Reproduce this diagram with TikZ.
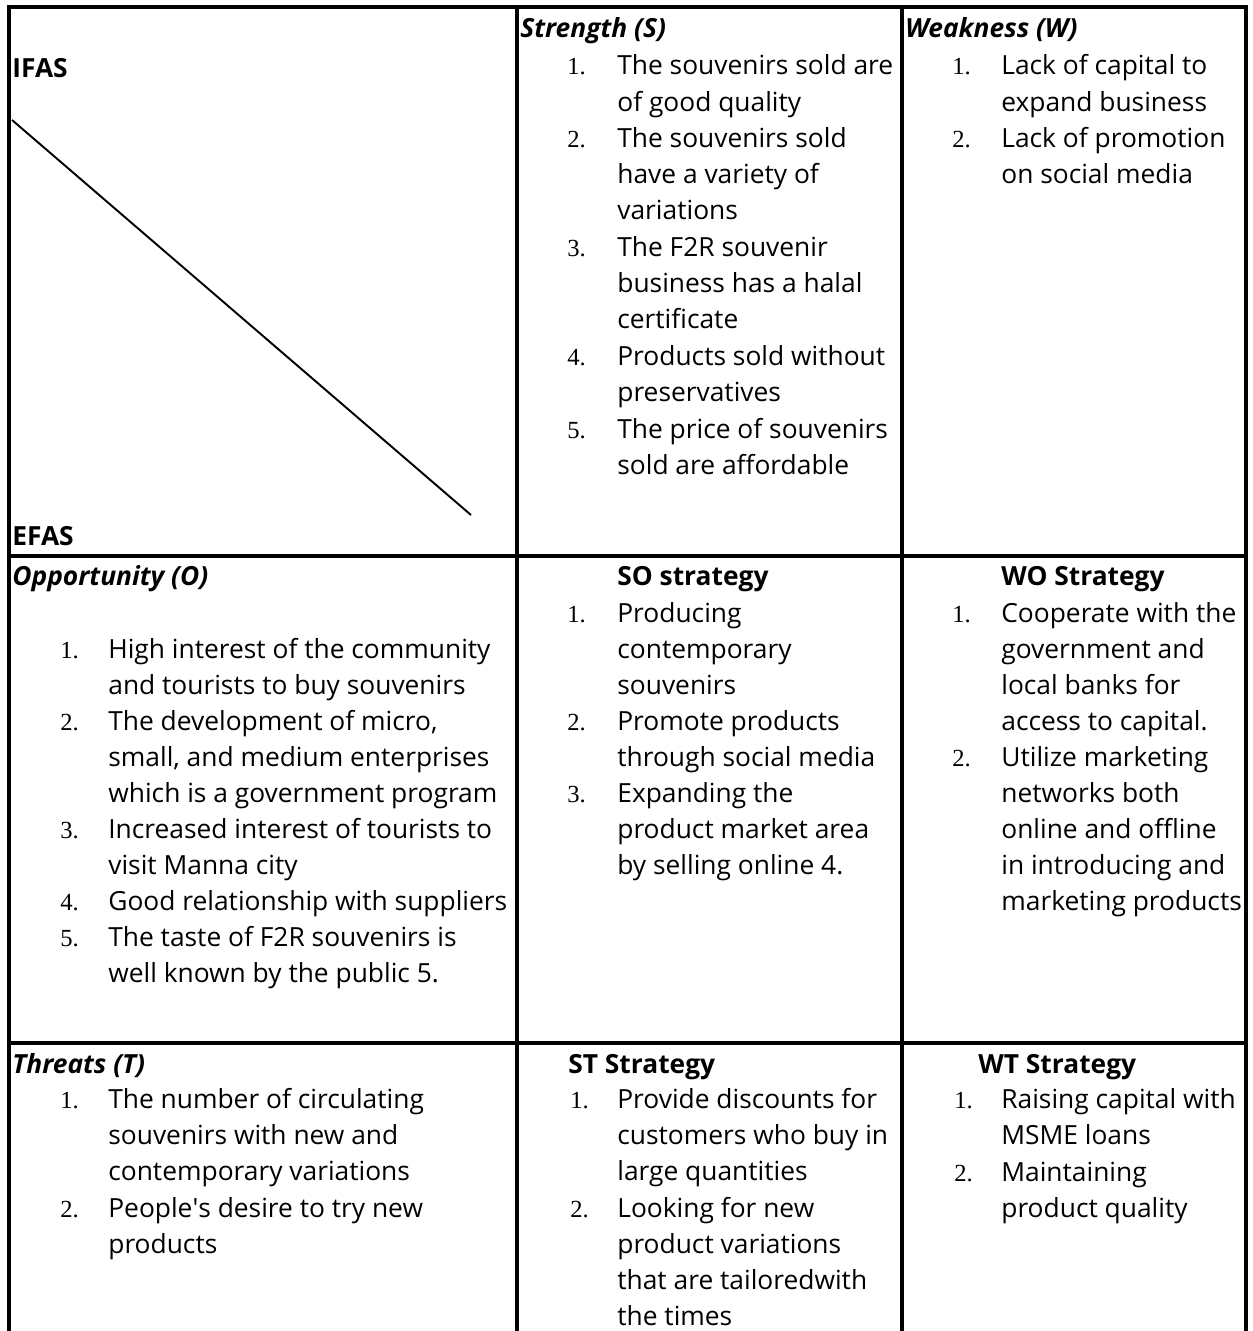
\documentclass[tikz,border=0pt]{standalone}
\usepackage{fontspec}
\setmainfont{Open Sans}
\newfontfamily\numfont{Liberation Serif}

\begin{document}
\begin{tikzpicture}[x=0.02cm,y=-0.02cm,
    every node/.style={inner sep=0pt,anchor=base west},
    txt/.style={font=\fontsize{15}{20.6}\selectfont},
    head/.style={font=\fontsize{15}{20.6}\selectfont\bfseries\itshape},
    strat/.style={font=\fontsize{15}{20.6}\selectfont\bfseries},
    num/.style={font=\fontsize{14}{20.6}\selectfont\numfont},
    rule/.style={line width=2pt}]
  \useasboundingbox (0,0) rectangle (1252,1331);
  % table lines
  \draw[rule] (9,1331) -- (9,7) -- (1246,7) -- (1246,1331);
  \draw[rule] (517,7) -- (517,1331);
  \draw[rule] (902,7) -- (902,1331);
  \draw[rule] (9,556) -- (1246,556);
  \draw[rule] (9,1043) -- (1246,1043);

  % corner cell
  \node[strat] (ifas) at (12,78) {IFAS};
  \node[strat] (efas) at (12,545) {EFAS};
  \draw[line width=1.1pt] (12,120) -- (471,515);

  % strength
  \node[head] (shead) at (520,38) {Strength (S)};
  \node[num] (s1n) at (567,75) {1.};
  \node[txt] (s1) at (617,75) {\parbox[t]{7cm}{The souvenirs sold are\\of good quality}};
  \node[num] (s2n) at (567,147.6) {2.};
  \node[txt] (s2) at (617,147.6) {\parbox[t]{7cm}{The souvenirs sold\\have a variety of\\variations}};
  \node[num] (s3n) at (567,256.5) {3.};
  \node[txt] (s3) at (617,256.5) {\parbox[t]{7cm}{The F2R souvenir\\business has a halal\\certificate}};
  \node[num] (s4n) at (567,365.4) {4.};
  \node[txt] (s4) at (617,365.4) {\parbox[t]{7cm}{Products sold without\\preservatives}};
  \node[num] (s5n) at (567,438) {5.};
  \node[txt] (s5) at (617,438) {\parbox[t]{7cm}{The price of souvenirs\\sold are affordable}};

  % weakness
  \node[head] (whead) at (905,38) {Weakness (W)};
  \node[num] (w1n) at (952,75) {1.};
  \node[txt] (w1) at (1001,75) {\parbox[t]{6cm}{Lack of capital to\\expand business}};
  \node[num] (w2n) at (952,147.6) {2.};
  \node[txt] (w2) at (1001,147.6) {\parbox[t]{6cm}{Lack of promotion\\on social media}};

  % opportunity
  \node[head] (ohead) at (12,585) {Opportunity (O)};
  \node[num] (o1n) at (60,658) {1.};
  \node[txt] (o1) at (108,658) {\parbox[t]{9cm}{High interest of the community\\and tourists to buy souvenirs}};
  \node[num] (o2n) at (60,730) {2.};
  \node[txt] (o2) at (108,730) {\parbox[t]{9cm}{The development of micro,\\small, and medium enterprises\\which is a government program}};
  \node[num] (o3n) at (60,838) {3.};
  \node[txt] (o3) at (108,838) {\parbox[t]{9cm}{Increased interest of tourists to\\visit Manna city}};
  \node[num] (o4n) at (60,910) {4.};
  \node[txt] (o4) at (108,910) {Good relationship with suppliers};
  \node[num] (o5n) at (60,946) {5.};
  \node[txt] (o5) at (108,946) {\parbox[t]{9cm}{The taste of F2R souvenirs is\\well known by the public 5.}};

  % SO
  \node[strat] (sohead) at (617,585) {SO strategy};
  \node[num] (so1n) at (567,622) {1.};
  \node[txt] (so1) at (617,622) {\parbox[t]{7cm}{Producing\\contemporary\\souvenirs}};
  \node[num] (so2n) at (567,730) {2.};
  \node[txt] (so2) at (617,730) {\parbox[t]{7cm}{Promote products\\through social media}};
  \node[num] (so3n) at (567,802) {3.};
  \node[txt] (so3) at (617,802) {\parbox[t]{7cm}{Expanding the\\product market area\\by selling online 4.}};

  % WO
  \node[strat] (wohead) at (1001,585) {WO Strategy};
  \node[num] (wo1n) at (952,622) {1.};
  \node[txt] (wo1) at (1001,622) {\parbox[t]{6cm}{Cooperate with the\\government and\\local banks for\\access to capital.}};
  \node[num] (wo2n) at (952,766) {2.};
  \node[txt] (wo2) at (1001,766) {\parbox[t]{6cm}{Utilize marketing\\networks both\\online and offline\\in introducing and\\marketing products}};

  % threats
  \node[head] (thead) at (12,1073) {Threats (T)};
  \node[num] (t1n) at (60,1108) {1.};
  \node[txt] (t1) at (108,1108) {\parbox[t]{9cm}{The number of circulating\\souvenirs with new and\\contemporary variations}};
  \node[num] (t2n) at (60,1217) {2.};
  \node[txt] (t2) at (108,1217) {\parbox[t]{9cm}{People\textquotesingle s desire to try new\\products}};

  % ST
  \node[strat] (sthead) at (568,1073) {ST Strategy};
  \node[num] (st1n) at (570,1108) {1.};
  \node[txt] (st1) at (617,1108) {\parbox[t]{7cm}{Provide discounts for\\customers who buy in\\large quantities}};
  \node[num] (st2n) at (570,1217) {2.};
  \node[txt] (st2) at (617,1217) {\parbox[t]{7cm}{Looking for new\\product variations\\that are tailoredwith\\the times}};

  % WT
  \node[strat] (wthead) at (978,1073) {WT Strategy};
  \node[num] (wt1n) at (954,1108) {1.};
  \node[txt] (wt1) at (1001,1108) {\parbox[t]{6cm}{Raising capital with\\MSME loans}};
  \node[num] (wt2n) at (954,1181) {2.};
  \node[txt] (wt2) at (1001,1181) {\parbox[t]{6cm}{Maintaining\\product quality}};
\end{tikzpicture}
\end{document}
